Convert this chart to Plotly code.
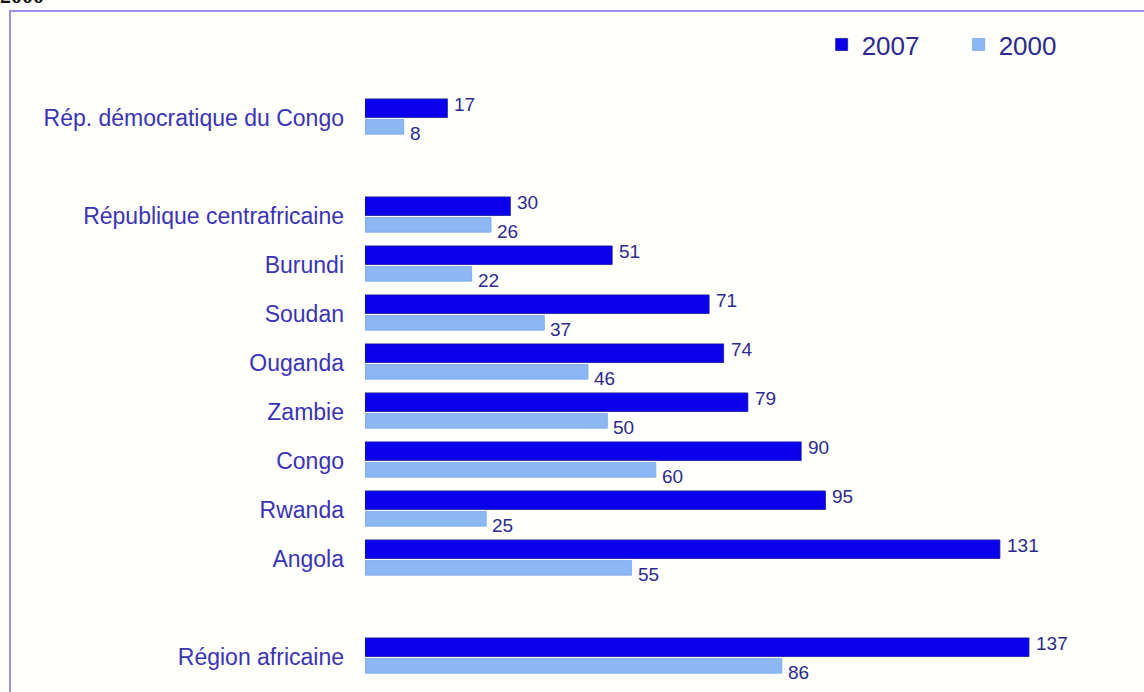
import plotly.graph_objects as go

# Categories, top to bottom; blank entries leave an empty slot between groups
countries = [
    "Rép. démocratique du Congo",
    " ",
    "République centrafricaine",
    "Burundi",
    "Soudan",
    "Ouganda",
    "Zambie",
    "Congo",
    "Rwanda",
    "Angola",
    "  ",
    "Région africaine",
]
labelled = [c for c in countries if c.strip()]

values_2007 = [17, 30, 51, 71, 74, 79, 90, 95, 131, 137]
values_2000 = [8, 26, 22, 37, 46, 50, 60, 25, 55, 86]

DARK = "#0a00ee"
LIGHT = "#8db7f3"
LABEL = "#3a33b4"
VALUE = "#2c2a8c"
FONT = "Liberation Sans, Arial, sans-serif"

fig = go.Figure()
fig.add_trace(go.Bar(
    name="2007", y=labelled, x=values_2007, orientation="h",
    marker=dict(color=DARK, line=dict(color="#1c1a9a", width=0.8)),
    offset=-0.38, width=0.38,
))
fig.add_trace(go.Bar(
    name="2000", y=labelled, x=values_2000, orientation="h",
    marker=dict(color=LIGHT, line=dict(color="#7aa4e8", width=0.8)),
    offset=0.04, width=0.30,
))

# Value labels at the end of each bar
annotations = []
for cat, v in zip(labelled, values_2007):
    annotations.append(dict(
        x=v, y=cat, xref="x", yref="y", text=str(v), showarrow=False,
        xanchor="left", yanchor="middle", xshift=5, yshift=13,
        font=dict(family=FONT, size=19, color=VALUE),
    ))
for cat, v in zip(labelled, values_2000):
    annotations.append(dict(
        x=v, y=cat, xref="x", yref="y", text=str(v), showarrow=False,
        xanchor="left", yanchor="middle", xshift=4, yshift=-16,
        font=dict(family=FONT, size=19, color=VALUE),
    ))

# Year caption above the frame
annotations.append(dict(
    x=0, y=1, xref="paper", yref="paper", text="<b>2000</b>", showarrow=False,
    xanchor="left", yanchor="bottom", xshift=-367, yshift=79,
    font=dict(family="Liberation Serif, serif", size=22, color="#111111"),
))

fig.update_layout(
    width=1144, height=692,
    margin=dict(l=365, r=52, t=89, b=10),
    paper_bgcolor="#fffffc", plot_bgcolor="#fffffc",
    barmode="overlay",
    showlegend=True,
    legend=dict(
        orientation="h", x=1.005, y=1.075, xanchor="right", yanchor="middle",
        font=dict(family=FONT, size=26, color=VALUE),
        bgcolor="rgba(0,0,0,0)", itemwidth=30, traceorder="normal",
        entrywidth=92, entrywidthmode="pixels",
    ),
    xaxis=dict(range=[0, 150], visible=False, fixedrange=True),
    yaxis=dict(
        type="category", categoryorder="array", categoryarray=countries,
        autorange="reversed",
        showgrid=False, zeroline=False, showline=False,
        ticks="", ticklabelstandoff=20,
        tickfont=dict(family=FONT, size=23, color=LABEL),
    ),
    annotations=annotations,
    shapes=[
        # frame: left and top edges
        dict(type="line", xref="paper", yref="paper", xsizemode="pixel",
             ysizemode="pixel", xanchor=0, yanchor=1,
             x0=-355, x1=-355, y0=78, y1=-700,
             line=dict(color="#9c90e4", width=2)),
        dict(type="line", xref="paper", yref="paper", xsizemode="pixel",
             ysizemode="pixel", xanchor=0, yanchor=1,
             x0=-356, x1=900, y0=78, y1=78,
             line=dict(color="#9c90e4", width=2)),
    ],
)

fig.write_html("out.html")
